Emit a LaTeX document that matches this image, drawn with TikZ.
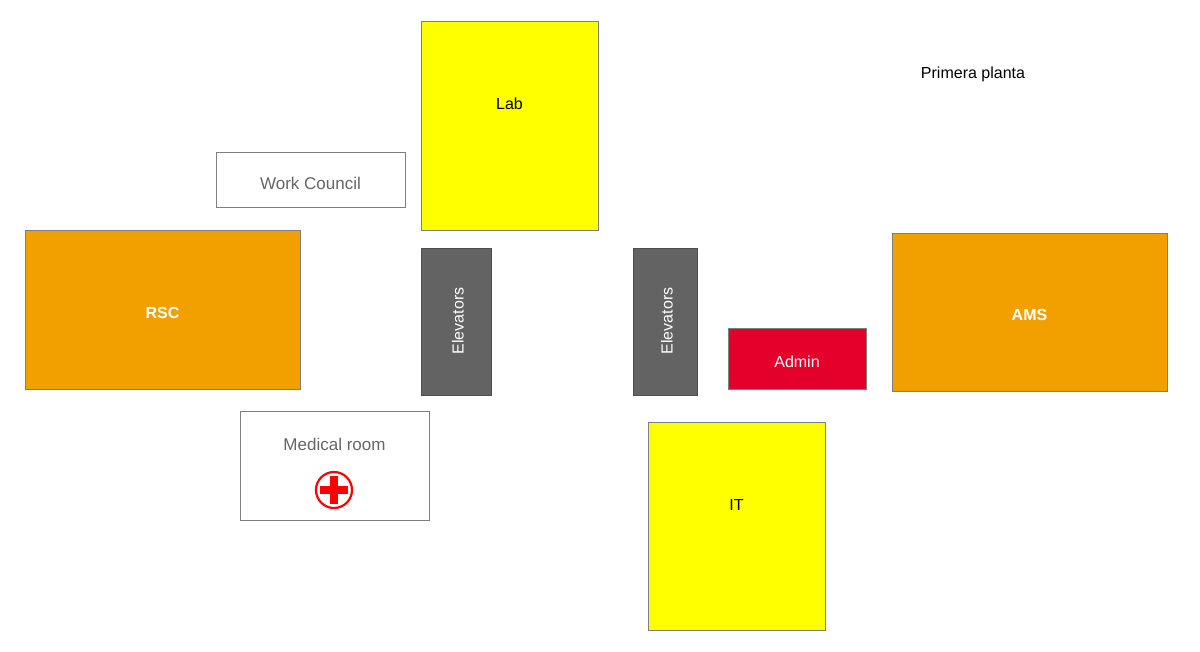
\documentclass[tikz,border=0pt]{standalone}
\usepackage{fontspec}
\setmainfont{Liberation Sans}
\definecolor{yel}{HTML}{FFFF00}
\definecolor{org}{HTML}{F29F00}
\definecolor{elev}{HTML}{636363}
\definecolor{adm}{HTML}{E4002B}
\definecolor{bord}{HTML}{7F7F7F}
\definecolor{txtg}{HTML}{666666}
\definecolor{crossred}{HTML}{FF0000}
\begin{document}
\begin{tikzpicture}[x=1pt,y=-1pt,
  room/.style={draw=bord,line width=1pt,inner sep=0pt},
  lbl/.style={font=\fontsize{16}{18}\selectfont}]
\useasboundingbox (0,0) rectangle (1200,651);
\fill[white] (0,0) rectangle (1200,651);
\draw[room,fill=yel] (421,21) rectangle (598,230);
\node[lbl] (lab) at (509.5,104) {Lab};
\draw[room,fill=white] (216,152) rectangle (405,207);
\node[lbl,text=txtg,font=\fontsize{17}{19}\selectfont] (wc) at (310.5,183) {Work Council};
\draw[room,fill=org] (25,230) rectangle (300,389);
\node[lbl,text=white,font=\bfseries\fontsize{16}{18}\selectfont] (rsc) at (162.5,313) {RSC};
\draw[room,fill=elev,draw=elev!80!black] (421,248) rectangle (491,395);
\node[lbl,text=white,rotate=90] (e1) at (458,321) {Elevators};
\draw[room,fill=elev,draw=elev!80!black] (633,248) rectangle (697,395);
\node[lbl,text=white,rotate=90] (e2) at (667,321) {Elevators};
\draw[room,fill=adm] (728,328) rectangle (866,389);
\node[lbl,text=white] (admin) at (797,362) {Admin};
\draw[room,fill=org] (892,233) rectangle (1167,391);
\node[lbl,text=white,font=\bfseries\fontsize{16}{18}\selectfont] (ams) at (1029.5,315) {AMS};
\draw[room,fill=white] (240,411) rectangle (429,520);
\node[lbl,text=txtg,font=\fontsize{17}{19}\selectfont] (med) at (334.5,444) {Medical room};
\draw[crossred,line width=2.2pt] (334,490) circle (18);
\fill[crossred] (330,476) rectangle (338,504);
\fill[crossred] (320,486) rectangle (348,494);
\draw[room,fill=yel] (648,422) rectangle (825,630);
\node[lbl] (it) at (736.5,505) {IT};
\node[lbl] (pp) at (973,74) {Primera planta};
\end{tikzpicture}
\end{document}
